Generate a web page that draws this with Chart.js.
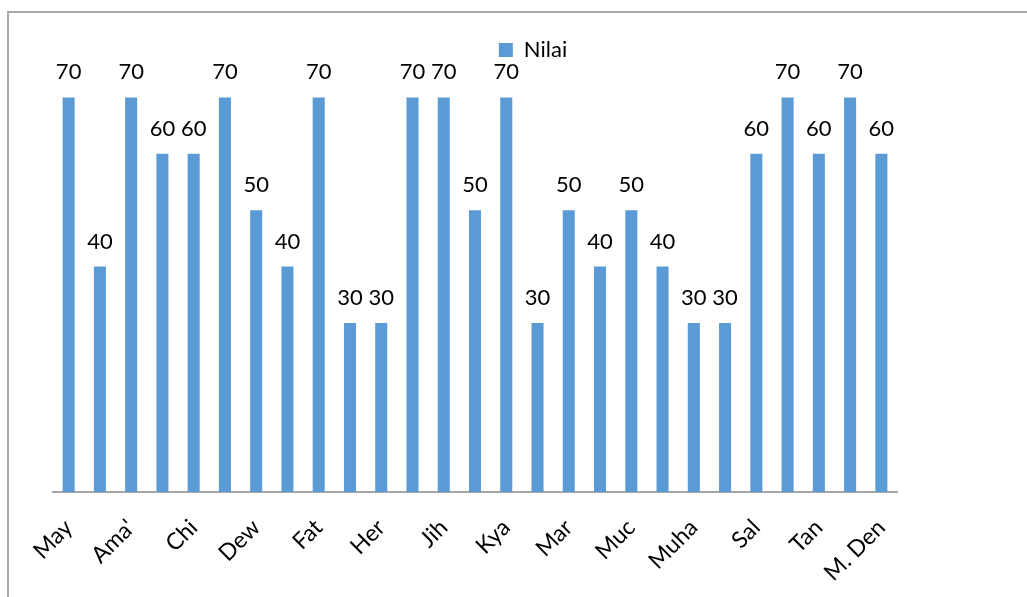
<!DOCTYPE html>
<html>
<head>
<meta charset="utf-8">
<script src="https://cdn.jsdelivr.net/npm/chart.js@4"></script>
<style>
  html, body { margin: 0; padding: 0; background: #fff; overflow: hidden; width: 1027px; height: 597px; }
  #frame { position: absolute; left: 7px; top: 11px; width: 1060px; height: 620px;
           border-top: 2px solid #a9a9a9; border-left: 2px solid #a9a9a9; }
  #wrap { position: absolute; left: 0; top: 0; width: 1048px; height: 600px; }
</style>
</head>
<body>
<div id="frame"><div id="wrap"><canvas id="c" width="1048" height="600"></canvas></div></div>
<script>
// Category names (only every other name is visible in the reference)
const categories = ["May", "", "Ama'", "", "Chi", "", "Dew", "", "Fat", "", "Her", "", "Jih", "",
                    "Kya", "", "Mar", "", "Muc", "", "Muha", "", "Sal", "", "Tan", "", "M. Den"];
const seriesName = "Nilai";
const nilai = [70, 40, 70, 60, 60, 70, 50, 40, 70, 30, 30, 70, 70, 50, 70, 30, 50, 40, 50, 40,
               30, 30, 60, 70, 60, 70, 60];
const yMax = 74.7;

const FONT = "Lato, 'Open Sans', sans-serif";

const valueLabels = {
  id: 'valueLabels',
  afterDatasetsDraw(chart) {
    const ctx = chart.ctx;
    const meta = chart.getDatasetMeta(0);
    ctx.save();
    ctx.font = "22px " + FONT;
    ctx.fillStyle = "#000";
    ctx.textAlign = "center";
    ctx.textBaseline = "alphabetic";
    meta.data.forEach((bar, i) => {
      ctx.fillText(String(chart.data.datasets[0].data[i]), bar.x, bar.y - 18);
    });
    ctx.restore();
  }
};

const hiddenAxis = (pos, w) => ({
  position: pos,
  display: true,
  min: 0,
  max: yMax,
  grid: { display: false, drawTicks: false },
  border: { display: false },
  ticks: { display: false },
  afterFit: function (scale) { scale.width = w; }
});

new Chart(document.getElementById('c'), {
  type: 'bar',
  data: {
    labels: categories,
    datasets: [{
      label: seriesName,
      data: nilai,
      yAxisID: 'y',
      backgroundColor: '#5b9bd5',
      borderWidth: 0,
      barPercentage: 0.77,
      categoryPercentage: 0.5
    }]
  },
  options: {
    responsive: false,
    animation: false,
    devicePixelRatio: 1,
    layout: { padding: { left: 0, right: 0, top: 16, bottom: 0 } },
    plugins: {
      legend: {
        display: true,
        position: 'top',
        labels: {
          boxWidth: 14, boxHeight: 14, padding: 10,
          color: '#000',
          font: { family: FONT, size: 22 }
        }
      },
      tooltip: { enabled: false },
      title: { display: false }
    },
    scales: {
      x: {
        grid: { display: false, drawTicks: false },
        border: { display: true, color: '#a6a6a6', width: 2 },
        ticks: {
          autoSkip: false,
          minRotation: 45, maxRotation: 45,
          padding: 22,
          color: '#000',
          font: { family: FONT, size: 23 },
          callback: function (v, i) { return categories[i]; }
        },
        afterFit: function (scale) { scale.height = 121; }
      },
      y: hiddenAxis('left', 44),
      yRight: hiddenAxis('right', 160)
    }
  },
  plugins: [valueLabels]
});
</script>
</body>
</html>
